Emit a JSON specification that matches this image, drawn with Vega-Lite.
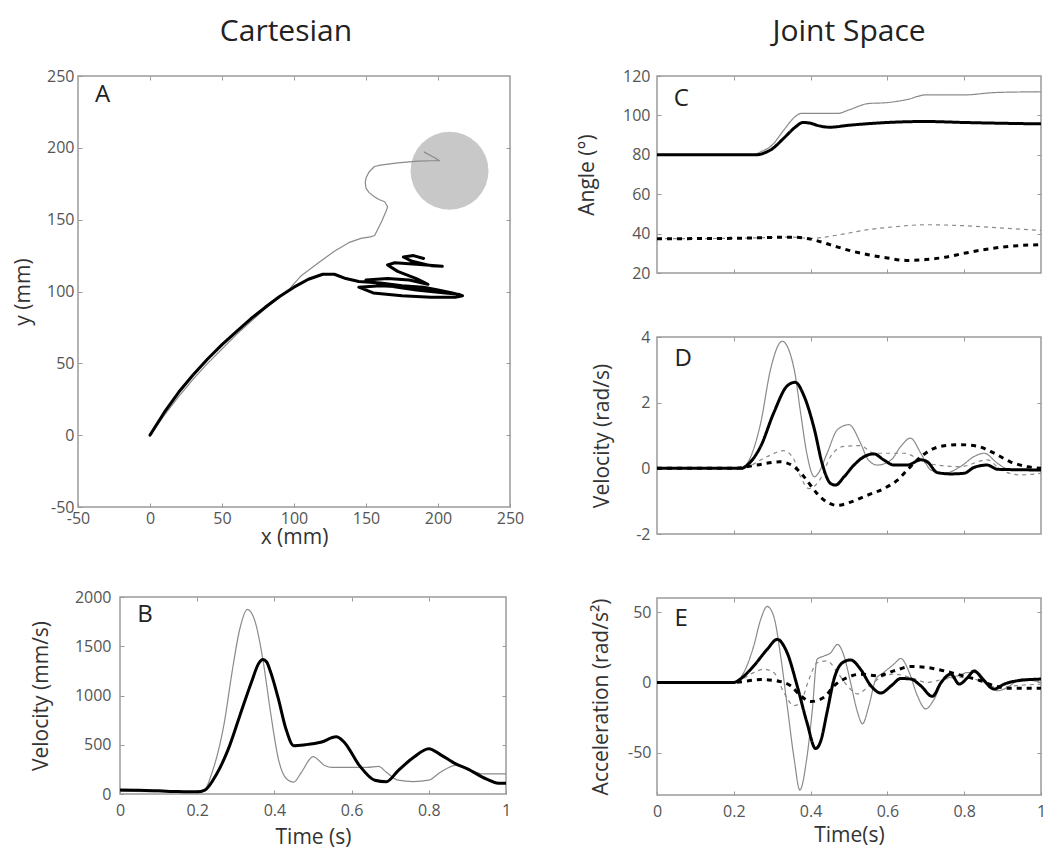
{
"$schema": "https://vega.github.io/schema/vega-lite/v6.json",
"padding": {"left": 11, "top": 16, "right": 5, "bottom": 5},
"background": "white",
"config": {
  "font": "Open Sans",
  "view": {"stroke": "#9a9a9a", "strokeWidth": 1.5},
  "legend": {"disable": true},
  "axis": {"grid": false, "domain": false, "tickColor": "#9a9a9a", "tickSize": -4, "tickWidth": 1, "tickCount": 12, "labelColor": "#555555", "labelFontSize": 16, "labelFlush": false, "labelOverlap": false, "labelExpr": "'' + datum.value", "titleFontSize": 21, "titleFontWeight": "normal", "titleColor": "#333333"},
  "title": {"font": "Open Sans", "fontWeight": "normal", "fontSize": 30, "color": "#222222", "anchor": "middle", "frame": "group"}
},
"datasets": {
  "circ": [{"x": 208, "y": 184}],
  "labA": [{"x": -33, "y": 237, "t": "A"}],
  "labB": [{"x": 0.065, "y": 1817, "t": "B"}],
  "labC": [{"x": 0.063, "y": 108.3, "t": "C"}],
  "labD": [{"x": 0.068, "y": 3.33, "t": "D"}],
  "labE": [{"x": 0.063, "y": 45, "t": "E"}],
  "pathA": [
    {"i":1,"x":0,"y":0,"s":"thin"},{"i":2,"x":10,"y":14,"s":"thin"},{"i":3,"x":20,"y":27,"s":"thin"},{"i":4,"x":30,"y":39,"s":"thin"},{"i":5,"x":40,"y":50,"s":"thin"},{"i":6,"x":50,"y":60,"s":"thin"},{"i":7,"x":60,"y":70,"s":"thin"},{"i":8,"x":70,"y":79,"s":"thin"},{"i":9,"x":80,"y":88,"s":"thin"},{"i":10,"x":90,"y":96,"s":"thin"},{"i":11,"x":97,"y":102,"s":"thin"},{"i":12,"x":105,"y":111,"s":"thin"},{"i":13,"x":117,"y":120,"s":"thin"},{"i":14,"x":128,"y":128,"s":"thin"},{"i":15,"x":138,"y":134,"s":"thin"},{"i":16,"x":146.5,"y":137,"s":"thin"},{"i":17,"x":153,"y":138,"s":"thin"},{"i":18,"x":156,"y":139,"s":"thin"},{"i":19,"x":158,"y":143,"s":"thin"},{"i":20,"x":161,"y":149,"s":"thin"},{"i":21,"x":164,"y":156,"s":"thin"},{"i":22,"x":165,"y":159,"s":"thin"},{"i":23,"x":163,"y":162.5,"s":"thin"},{"i":24,"x":159,"y":164,"s":"thin"},{"i":25,"x":155.8,"y":166,"s":"thin"},{"i":26,"x":152,"y":169,"s":"thin"},{"i":27,"x":150,"y":172,"s":"thin"},{"i":28,"x":149.5,"y":176,"s":"thin"},{"i":29,"x":150,"y":179,"s":"thin"},{"i":30,"x":152,"y":183,"s":"thin"},{"i":31,"x":155.8,"y":187,"s":"thin"},{"i":32,"x":160,"y":188,"s":"thin"},{"i":33,"x":172,"y":189.5,"s":"thin"},{"i":34,"x":186,"y":190.7,"s":"thin"},{"i":35,"x":195,"y":191,"s":"thin"},{"i":36,"x":201,"y":191,"s":"thin"},{"i":37,"x":198,"y":193,"s":"thin"},{"i":38,"x":196,"y":194,"s":"thin"},{"i":39,"x":190.5,"y":197,"s":"thin"},
    {"i":1,"x":0,"y":0,"s":"thick"},{"i":2,"x":10,"y":16,"s":"thick"},{"i":3,"x":20,"y":30,"s":"thick"},{"i":4,"x":30,"y":42,"s":"thick"},{"i":5,"x":40,"y":53,"s":"thick"},{"i":6,"x":50,"y":63,"s":"thick"},{"i":7,"x":60,"y":72,"s":"thick"},{"i":8,"x":70,"y":81,"s":"thick"},{"i":9,"x":80,"y":89,"s":"thick"},{"i":10,"x":90,"y":96.5,"s":"thick"},{"i":11,"x":100,"y":103,"s":"thick"},{"i":12,"x":110,"y":108.5,"s":"thick"},{"i":13,"x":120,"y":112,"s":"thick"},{"i":14,"x":128,"y":112,"s":"thick"},{"i":15,"x":136,"y":109,"s":"thick"},{"i":16,"x":145,"y":107,"s":"thick"},{"i":17,"x":160,"y":106,"s":"thick"},{"i":18,"x":175,"y":104,"s":"thick"},{"i":19,"x":190,"y":103,"s":"thick"},{"i":20,"x":200,"y":101,"s":"thick"},{"i":21,"x":210,"y":99,"s":"thick"},{"i":22,"x":217,"y":97,"s":"thick"},{"i":23,"x":212,"y":96,"s":"thick"},{"i":24,"x":195,"y":96,"s":"thick"},{"i":25,"x":175,"y":97,"s":"thick"},{"i":26,"x":155,"y":99,"s":"thick"},{"i":27,"x":145,"y":103,"s":"thick"},{"i":28,"x":160,"y":104,"s":"thick"},{"i":29,"x":180,"y":103,"s":"thick"},{"i":30,"x":200,"y":100,"s":"thick"},{"i":31,"x":215,"y":98,"s":"thick"},{"i":32,"x":205,"y":99,"s":"thick"},{"i":33,"x":185,"y":101,"s":"thick"},{"i":34,"x":165,"y":104,"s":"thick"},{"i":35,"x":150,"y":108,"s":"thick"},{"i":36,"x":165,"y":109,"s":"thick"},{"i":37,"x":180,"y":108,"s":"thick"},{"i":38,"x":193,"y":105,"s":"thick"},{"i":39,"x":185,"y":109,"s":"thick"},{"i":40,"x":172,"y":114,"s":"thick"},{"i":41,"x":165,"y":118.5,"s":"thick"},{"i":42,"x":170,"y":120,"s":"thick"},{"i":43,"x":185,"y":119,"s":"thick"},{"i":44,"x":203,"y":117.5,"s":"thick"},{"i":45,"x":195,"y":118,"s":"thick"},{"i":46,"x":182,"y":121,"s":"thick"},{"i":47,"x":176,"y":124,"s":"thick"},{"i":48,"x":183,"y":125,"s":"thick"},{"i":49,"x":190,"y":123,"s":"thick"}
  ],
  "velB": [
    {"t":0,"v":30,"s":"thin"},{"t":0.1,"v":25,"s":"thin"},{"t":0.2,"v":25,"s":"thin"},{"t":0.22,"v":45,"s":"thin"},{"t":0.237,"v":200,"s":"thin"},{"t":0.27,"v":720,"s":"thin"},{"t":0.29,"v":1230,"s":"thin"},{"t":0.31,"v":1670,"s":"thin"},{"t":0.33,"v":1875,"s":"thin"},{"t":0.35,"v":1750,"s":"thin"},{"t":0.37,"v":1370,"s":"thin"},{"t":0.39,"v":830,"s":"thin"},{"t":0.41,"v":360,"s":"thin"},{"t":0.43,"v":160,"s":"thin"},{"t":0.45,"v":120,"s":"thin"},{"t":0.47,"v":220,"s":"thin"},{"t":0.5,"v":380,"s":"thin"},{"t":0.53,"v":290,"s":"thin"},{"t":0.55,"v":270,"s":"thin"},{"t":0.6,"v":270,"s":"thin"},{"t":0.64,"v":270,"s":"thin"},{"t":0.67,"v":280,"s":"thin"},{"t":0.69,"v":220,"s":"thin"},{"t":0.72,"v":140,"s":"thin"},{"t":0.76,"v":125,"s":"thin"},{"t":0.8,"v":140,"s":"thin"},{"t":0.83,"v":220,"s":"thin"},{"t":0.87,"v":290,"s":"thin"},{"t":0.9,"v":255,"s":"thin"},{"t":0.94,"v":205,"s":"thin"},{"t":1,"v":205,"s":"thin"},
    {"t":0,"v":40,"s":"thick"},{"t":0.05,"v":38,"s":"thick"},{"t":0.1,"v":32,"s":"thick"},{"t":0.15,"v":25,"s":"thick"},{"t":0.2,"v":22,"s":"thick"},{"t":0.22,"v":40,"s":"thick"},{"t":0.25,"v":200,"s":"thick"},{"t":0.28,"v":450,"s":"thick"},{"t":0.31,"v":790,"s":"thick"},{"t":0.34,"v":1130,"s":"thick"},{"t":0.36,"v":1330,"s":"thick"},{"t":0.37,"v":1365,"s":"thick"},{"t":0.38,"v":1340,"s":"thick"},{"t":0.39,"v":1240,"s":"thick"},{"t":0.41,"v":970,"s":"thick"},{"t":0.43,"v":660,"s":"thick"},{"t":0.45,"v":490,"s":"thick"},{"t":0.48,"v":500,"s":"thick"},{"t":0.52,"v":525,"s":"thick"},{"t":0.56,"v":580,"s":"thick"},{"t":0.58,"v":530,"s":"thick"},{"t":0.62,"v":290,"s":"thick"},{"t":0.66,"v":140,"s":"thick"},{"t":0.69,"v":125,"s":"thick"},{"t":0.72,"v":235,"s":"thick"},{"t":0.76,"v":370,"s":"thick"},{"t":0.8,"v":460,"s":"thick"},{"t":0.83,"v":400,"s":"thick"},{"t":0.87,"v":305,"s":"thick"},{"t":0.9,"v":255,"s":"thick"},{"t":0.95,"v":150,"s":"thick"},{"t":0.98,"v":110,"s":"thick"},{"t":1,"v":110,"s":"thick"}
  ],
  "angC": [
    {"t":0,"v":80,"s":"thin"},{"t":0.25,"v":80,"s":"thin"},{"t":0.27,"v":81.5,"s":"thin"},{"t":0.3,"v":85,"s":"thin"},{"t":0.33,"v":92.5,"s":"thin"},{"t":0.36,"v":99.4,"s":"thin"},{"t":0.375,"v":101,"s":"thin"},{"t":0.47,"v":101,"s":"thin"},{"t":0.5,"v":102.8,"s":"thin"},{"t":0.55,"v":106,"s":"thin"},{"t":0.6,"v":106.5,"s":"thin"},{"t":0.65,"v":108,"s":"thin"},{"t":0.7,"v":110.4,"s":"thin"},{"t":0.8,"v":110.4,"s":"thin"},{"t":0.88,"v":111.6,"s":"thin"},{"t":1,"v":112,"s":"thin"},
    {"t":0,"v":37.4,"s":"thinDash"},{"t":0.2,"v":37.6,"s":"thinDash"},{"t":0.35,"v":38.2,"s":"thinDash"},{"t":0.4,"v":37.6,"s":"thinDash"},{"t":0.45,"v":38.6,"s":"thinDash"},{"t":0.5,"v":40.3,"s":"thinDash"},{"t":0.55,"v":42,"s":"thinDash"},{"t":0.6,"v":43.1,"s":"thinDash"},{"t":0.7,"v":44.5,"s":"thinDash"},{"t":0.8,"v":44,"s":"thinDash"},{"t":0.9,"v":42.8,"s":"thinDash"},{"t":1,"v":41.6,"s":"thinDash"},
    {"t":0,"v":80,"s":"thick"},{"t":0.26,"v":80,"s":"thick"},{"t":0.28,"v":81,"s":"thick"},{"t":0.3,"v":83,"s":"thick"},{"t":0.33,"v":88.4,"s":"thick"},{"t":0.36,"v":94,"s":"thick"},{"t":0.38,"v":96.4,"s":"thick"},{"t":0.4,"v":96,"s":"thick"},{"t":0.42,"v":94.8,"s":"thick"},{"t":0.45,"v":94,"s":"thick"},{"t":0.5,"v":95,"s":"thick"},{"t":0.6,"v":96.4,"s":"thick"},{"t":0.7,"v":96.9,"s":"thick"},{"t":0.8,"v":96.4,"s":"thick"},{"t":0.9,"v":96,"s":"thick"},{"t":1,"v":95.7,"s":"thick"},
    {"t":0,"v":37.4,"s":"thickDash"},{"t":0.2,"v":37.6,"s":"thickDash"},{"t":0.35,"v":38.2,"s":"thickDash"},{"t":0.4,"v":37.2,"s":"thickDash"},{"t":0.45,"v":34.4,"s":"thickDash"},{"t":0.5,"v":31.5,"s":"thickDash"},{"t":0.55,"v":29.3,"s":"thickDash"},{"t":0.6,"v":27.6,"s":"thickDash"},{"t":0.65,"v":26.4,"s":"thickDash"},{"t":0.7,"v":26.8,"s":"thickDash"},{"t":0.75,"v":28,"s":"thickDash"},{"t":0.8,"v":30,"s":"thickDash"},{"t":0.85,"v":31.8,"s":"thickDash"},{"t":0.9,"v":33.2,"s":"thickDash"},{"t":1,"v":34.4,"s":"thickDash"}
  ],
  "velD": [
    {"t":0,"v":0,"s":"thin"},{"t":0.22,"v":0,"s":"thin"},{"t":0.235,"v":0.15,"s":"thin"},{"t":0.27,"v":1.38,"s":"thin"},{"t":0.296,"v":3.03,"s":"thin"},{"t":0.326,"v":3.87,"s":"thin"},{"t":0.357,"v":3.03,"s":"thin"},{"t":0.374,"v":1.69,"s":"thin"},{"t":0.39,"v":0.46,"s":"thin"},{"t":0.41,"v":-0.26,"s":"thin"},{"t":0.42,"v":-0.15,"s":"thin"},{"t":0.443,"v":0.46,"s":"thin"},{"t":0.47,"v":1.18,"s":"thin"},{"t":0.5,"v":1.33,"s":"thin"},{"t":0.53,"v":0.77,"s":"thin"},{"t":0.55,"v":0.26,"s":"thin"},{"t":0.574,"v":0.1,"s":"thin"},{"t":0.61,"v":0.26,"s":"thin"},{"t":0.635,"v":0.67,"s":"thin"},{"t":0.66,"v":0.92,"s":"thin"},{"t":0.687,"v":0.46,"s":"thin"},{"t":0.713,"v":-0.05,"s":"thin"},{"t":0.748,"v":-0.15,"s":"thin"},{"t":0.79,"v":0.05,"s":"thin"},{"t":0.826,"v":0.36,"s":"thin"},{"t":0.852,"v":0.46,"s":"thin"},{"t":0.887,"v":0.15,"s":"thin"},{"t":0.92,"v":-0.05,"s":"thin"},{"t":1,"v":-0.05,"s":"thin"},
    {"t":0,"v":0,"s":"thinDash"},{"t":0.22,"v":0,"s":"thinDash"},{"t":0.287,"v":0.36,"s":"thinDash"},{"t":0.33,"v":0.54,"s":"thinDash"},{"t":0.357,"v":0.26,"s":"thinDash"},{"t":0.374,"v":-0.26,"s":"thinDash"},{"t":0.396,"v":-0.62,"s":"thinDash"},{"t":0.426,"v":-0.31,"s":"thinDash"},{"t":0.452,"v":0.36,"s":"thinDash"},{"t":0.487,"v":0.67,"s":"thinDash"},{"t":0.53,"v":0.69,"s":"thinDash"},{"t":0.565,"v":0.46,"s":"thinDash"},{"t":0.6,"v":0.46,"s":"thinDash"},{"t":0.643,"v":0.46,"s":"thinDash"},{"t":0.704,"v":0.15,"s":"thinDash"},{"t":0.79,"v":0.05,"s":"thinDash"},{"t":0.86,"v":0.26,"s":"thinDash"},{"t":0.896,"v":-0.05,"s":"thinDash"},{"t":0.948,"v":-0.2,"s":"thinDash"},{"t":1,"v":-0.15,"s":"thinDash"},
    {"t":0,"v":0,"s":"thick"},{"t":0.22,"v":0,"s":"thick"},{"t":0.235,"v":0.1,"s":"thick"},{"t":0.27,"v":0.67,"s":"thick"},{"t":0.304,"v":1.69,"s":"thick"},{"t":0.339,"v":2.51,"s":"thick"},{"t":0.36,"v":2.62,"s":"thick"},{"t":0.383,"v":2.2,"s":"thick"},{"t":0.41,"v":1.18,"s":"thick"},{"t":0.43,"v":0.15,"s":"thick"},{"t":0.452,"v":-0.46,"s":"thick"},{"t":0.465,"v":-0.51,"s":"thick"},{"t":0.487,"v":-0.26,"s":"thick"},{"t":0.513,"v":0.1,"s":"thick"},{"t":0.54,"v":0.36,"s":"thick"},{"t":0.565,"v":0.44,"s":"thick"},{"t":0.59,"v":0.26,"s":"thick"},{"t":0.617,"v":0.1,"s":"thick"},{"t":0.652,"v":0.1,"s":"thick"},{"t":0.687,"v":0.26,"s":"thick"},{"t":0.704,"v":0.2,"s":"thick"},{"t":0.73,"v":-0.13,"s":"thick"},{"t":0.765,"v":-0.17,"s":"thick"},{"t":0.8,"v":-0.15,"s":"thick"},{"t":0.826,"v":0.03,"s":"thick"},{"t":0.86,"v":0.1,"s":"thick"},{"t":0.887,"v":-0.03,"s":"thick"},{"t":1,"v":-0.05,"s":"thick"},
    {"t":0,"v":0,"s":"thickDash"},{"t":0.2,"v":0,"s":"thickDash"},{"t":0.26,"v":0.1,"s":"thickDash"},{"t":0.32,"v":0.2,"s":"thickDash"},{"t":0.357,"v":0.05,"s":"thickDash"},{"t":0.383,"v":-0.26,"s":"thickDash"},{"t":0.417,"v":-0.77,"s":"thickDash"},{"t":0.443,"v":-1.03,"s":"thickDash"},{"t":0.47,"v":-1.13,"s":"thickDash"},{"t":0.504,"v":-1.03,"s":"thickDash"},{"t":0.548,"v":-0.82,"s":"thickDash"},{"t":0.59,"v":-0.62,"s":"thickDash"},{"t":0.626,"v":-0.36,"s":"thickDash"},{"t":0.652,"v":-0.05,"s":"thickDash"},{"t":0.678,"v":0.26,"s":"thickDash"},{"t":0.713,"v":0.56,"s":"thickDash"},{"t":0.748,"v":0.69,"s":"thickDash"},{"t":0.79,"v":0.72,"s":"thickDash"},{"t":0.835,"v":0.67,"s":"thickDash"},{"t":0.878,"v":0.46,"s":"thickDash"},{"t":0.92,"v":0.2,"s":"thickDash"},{"t":0.965,"v":0.05,"s":"thickDash"},{"t":1,"v":0,"s":"thickDash"}
  ],
  "accE": [
    {"t":0,"v":0,"s":"thin"},{"t":0.2,"v":0,"s":"thin"},{"t":0.226,"v":7,"s":"thin"},{"t":0.252,"v":26,"s":"thin"},{"t":0.27,"v":44.7,"s":"thin"},{"t":0.287,"v":54,"s":"thin"},{"t":0.304,"v":47,"s":"thin"},{"t":0.322,"v":18.8,"s":"thin"},{"t":0.339,"v":-16.5,"s":"thin"},{"t":0.357,"v":-54,"s":"thin"},{"t":0.372,"v":-76.5,"s":"thin"},{"t":0.39,"v":-54,"s":"thin"},{"t":0.404,"v":-21,"s":"thin"},{"t":0.417,"v":16.5,"s":"thin"},{"t":0.435,"v":18.8,"s":"thin"},{"t":0.452,"v":21,"s":"thin"},{"t":0.47,"v":27,"s":"thin"},{"t":0.487,"v":18.8,"s":"thin"},{"t":0.504,"v":0,"s":"thin"},{"t":0.522,"v":-21,"s":"thin"},{"t":0.535,"v":-29.4,"s":"thin"},{"t":0.552,"v":-16.5,"s":"thin"},{"t":0.57,"v":2.4,"s":"thin"},{"t":0.59,"v":7,"s":"thin"},{"t":0.617,"v":13,"s":"thin"},{"t":0.635,"v":17,"s":"thin"},{"t":0.657,"v":7,"s":"thin"},{"t":0.678,"v":-9.4,"s":"thin"},{"t":0.7,"v":-18.8,"s":"thin"},{"t":0.722,"v":-11.8,"s":"thin"},{"t":0.748,"v":2.4,"s":"thin"},{"t":0.783,"v":4.7,"s":"thin"},{"t":0.809,"v":7,"s":"thin"},{"t":0.835,"v":7,"s":"thin"},{"t":0.861,"v":-1.2,"s":"thin"},{"t":0.887,"v":-5.9,"s":"thin"},{"t":0.913,"v":-3.5,"s":"thin"},{"t":0.948,"v":2.4,"s":"thin"},{"t":1,"v":0,"s":"thin"},
    {"t":0,"v":0,"s":"thinDash"},{"t":0.2,"v":0,"s":"thinDash"},{"t":0.252,"v":7,"s":"thinDash"},{"t":0.278,"v":9.4,"s":"thinDash"},{"t":0.304,"v":7,"s":"thinDash"},{"t":0.33,"v":-7,"s":"thinDash"},{"t":0.357,"v":-16.5,"s":"thinDash"},{"t":0.374,"v":-14,"s":"thinDash"},{"t":0.396,"v":2.4,"s":"thinDash"},{"t":0.417,"v":14,"s":"thinDash"},{"t":0.443,"v":15.3,"s":"thinDash"},{"t":0.47,"v":7,"s":"thinDash"},{"t":0.496,"v":-2.4,"s":"thinDash"},{"t":0.522,"v":-8.2,"s":"thinDash"},{"t":0.548,"v":-3.5,"s":"thinDash"},{"t":0.583,"v":3.5,"s":"thinDash"},{"t":0.617,"v":5.9,"s":"thinDash"},{"t":0.661,"v":3.5,"s":"thinDash"},{"t":0.704,"v":0,"s":"thinDash"},{"t":0.748,"v":2.4,"s":"thinDash"},{"t":0.79,"v":3.5,"s":"thinDash"},{"t":0.843,"v":1.2,"s":"thinDash"},{"t":0.887,"v":-3.5,"s":"thinDash"},{"t":0.93,"v":-2.4,"s":"thinDash"},{"t":1,"v":-1.2,"s":"thinDash"},
    {"t":0,"v":0,"s":"thick"},{"t":0.2,"v":0,"s":"thick"},{"t":0.217,"v":2.4,"s":"thick"},{"t":0.252,"v":11.8,"s":"thick"},{"t":0.287,"v":23.5,"s":"thick"},{"t":0.313,"v":30.6,"s":"thick"},{"t":0.339,"v":21,"s":"thick"},{"t":0.365,"v":-2.4,"s":"thick"},{"t":0.39,"v":-28,"s":"thick"},{"t":0.413,"v":-47,"s":"thick"},{"t":0.426,"v":-42,"s":"thick"},{"t":0.443,"v":-21,"s":"thick"},{"t":0.461,"v":2.4,"s":"thick"},{"t":0.483,"v":14,"s":"thick"},{"t":0.504,"v":16,"s":"thick"},{"t":0.53,"v":9.4,"s":"thick"},{"t":0.557,"v":-2.4,"s":"thick"},{"t":0.583,"v":-7.5,"s":"thick"},{"t":0.61,"v":-2.4,"s":"thick"},{"t":0.635,"v":2.8,"s":"thick"},{"t":0.661,"v":2.4,"s":"thick"},{"t":0.687,"v":-2.4,"s":"thick"},{"t":0.717,"v":-9.9,"s":"thick"},{"t":0.74,"v":0,"s":"thick"},{"t":0.765,"v":5.9,"s":"thick"},{"t":0.787,"v":-1.2,"s":"thick"},{"t":0.809,"v":3.5,"s":"thick"},{"t":0.826,"v":8.2,"s":"thick"},{"t":0.848,"v":2.4,"s":"thick"},{"t":0.878,"v":-4.7,"s":"thick"},{"t":0.904,"v":-1.2,"s":"thick"},{"t":0.939,"v":1.2,"s":"thick"},{"t":1,"v":2.4,"s":"thick"},
    {"t":0,"v":0,"s":"thickDash"},{"t":0.2,"v":0,"s":"thickDash"},{"t":0.27,"v":2,"s":"thickDash"},{"t":0.313,"v":1,"s":"thickDash"},{"t":0.348,"v":-2.4,"s":"thickDash"},{"t":0.374,"v":-9.4,"s":"thickDash"},{"t":0.4,"v":-13.6,"s":"thickDash"},{"t":0.435,"v":-10.6,"s":"thickDash"},{"t":0.461,"v":-2.4,"s":"thickDash"},{"t":0.496,"v":3.5,"s":"thickDash"},{"t":0.53,"v":5.9,"s":"thickDash"},{"t":0.574,"v":4.7,"s":"thickDash"},{"t":0.617,"v":8.2,"s":"thickDash"},{"t":0.661,"v":11.3,"s":"thickDash"},{"t":0.704,"v":10.6,"s":"thickDash"},{"t":0.748,"v":8.2,"s":"thickDash"},{"t":0.79,"v":5.2,"s":"thickDash"},{"t":0.843,"v":1.2,"s":"thickDash"},{"t":0.878,"v":-2.4,"s":"thickDash"},{"t":0.922,"v":-4.2,"s":"thickDash"},{"t":1,"v":-4.2,"s":"thickDash"}
  ]
},
"hconcat": [
  {
    "vconcat": [
      {
        "width": 432, "height": 431,
        "title": {"text": "Cartesian", "offset": -3, "baseline": "alphabetic", "dx": -8},
        "resolve": {"axis": {"x": "independent", "y": "independent"}},
        "layer": [
          {"data": {"name": "circ"}, "mark": {"type": "point", "filled": true, "size": 6084, "color": "#c8c8c8", "opacity": 1, "strokeWidth": 0},
           "encoding": {
             "x": {"field": "x", "type": "quantitative", "scale": {"domain": [-50, 250], "nice": false, "zero": false}, "axis": {"title": "x (mm)", "values": [-50, 0, 50, 100, 150, 200, 250], "labelPadding": 7, "titleY": 30, "titleBaseline": "middle"}},
             "y": {"field": "y", "type": "quantitative", "scale": {"domain": [-50, 250], "nice": false, "zero": false}, "axis": {"title": "y (mm)", "values": [-50, 0, 50, 100, 150, 200, 250], "labelPadding": 8, "titleX": -55, "titleBaseline": "middle"}}
           }},
          {"data": {"name": "pathA"}, "mark": {"type": "line", "strokeJoin": "round", "strokeCap": "round"},
           "encoding": {
             "x": {"field": "x", "type": "quantitative", "axis": null},
             "y": {"field": "y", "type": "quantitative", "axis": null},
             "order": {"field": "i", "type": "quantitative"},
             "color": {"field": "s", "type": "nominal", "scale": {"domain": ["thin", "thinDash", "thick", "thickDash"], "range": ["#8a8a8a", "#8a8a8a", "#000000", "#000000"]}},
             "strokeWidth": {"condition": {"test": "datum.s == 'thick' || datum.s == 'thickDash'", "value": 3}, "value": 1.2}
           }},
          {"data": {"name": "labA"}, "mark": {"type": "text", "fontSize": 24, "align": "center", "baseline": "middle", "color": "#222222"},
           "encoding": {
             "x": {"field": "x", "type": "quantitative", "axis": {"orient": "top", "title": null, "labels": false, "values": [0, 50, 100, 150, 200]}},
             "y": {"field": "y", "type": "quantitative", "axis": {"orient": "right", "title": null, "labels": false, "values": [0, 50, 100, 150, 200]}},
             "text": {"field": "t"}}}
        ]
      },
      {
        "hconcat": [
          {"width": 42, "height": 10, "view": {"stroke": null}, "data": {"values": [{"a": 1}]}, "mark": {"type": "point", "opacity": 0}, "encoding": {}},
          {
            "width": 386, "height": 197,
            "resolve": {"axis": {"x": "independent", "y": "independent"}},
            "layer": [
              {"data": {"name": "velB"}, "mark": {"type": "line", "interpolate": "monotone"},
               "encoding": {
                 "x": {"field": "t", "type": "quantitative", "scale": {"domain": [0, 1], "nice": false}, "axis": {"title": "Time (s)", "values": [0, 0.2, 0.4, 0.6, 0.8, 1], "labelPadding": 12, "titleY": 43, "titleBaseline": "middle"}},
                 "y": {"field": "v", "type": "quantitative", "scale": {"domain": [0, 2000], "nice": false}, "axis": {"title": "Velocity (mm/s)", "values": [0, 500, 1000, 1500, 2000], "labelPadding": 13, "titleX": -79, "titleBaseline": "middle"}},
                 "color": {"field": "s", "type": "nominal", "scale": {"domain": ["thin", "thinDash", "thick", "thickDash"], "range": ["#8a8a8a", "#8a8a8a", "#000000", "#000000"]}},
                 "strokeWidth": {"condition": {"test": "datum.s == 'thick' || datum.s == 'thickDash'", "value": 3}, "value": 1.2}
               }},
              {"data": {"name": "labB"}, "mark": {"type": "text", "fontSize": 24, "align": "center", "baseline": "middle", "color": "#222222"},
               "encoding": {
                 "x": {"field": "x", "type": "quantitative", "axis": {"orient": "top", "title": null, "labels": false, "values": [0.2, 0.4, 0.6, 0.8]}},
                 "y": {"field": "y", "type": "quantitative", "axis": {"orient": "right", "title": null, "labels": false, "values": [500, 1000, 1500]}},
                 "text": {"field": "t"}}}
            ]
          }
        ],
        "bounds": "flush", "spacing": 0
      }
    ],
    "bounds": "flush", "spacing": 90
  },
  {
    "vconcat": [
      {
        "width": 384, "height": 197,
        "title": {"text": "Joint Space", "offset": -3, "baseline": "alphabetic"},
        "resolve": {"axis": {"x": "independent", "y": "independent"}},
        "layer": [
          {"data": {"name": "angC"}, "mark": {"type": "line", "interpolate": "monotone"},
           "encoding": {
             "x": {"field": "t", "type": "quantitative", "scale": {"domain": [0, 1], "nice": false}, "axis": {"title": null, "labels": false, "values": [0.2, 0.4, 0.6, 0.8]}},
             "y": {"field": "v", "type": "quantitative", "scale": {"domain": [20, 120], "nice": false, "zero": false}, "axis": {"title": "Angle (°)", "values": [20, 40, 60, 80, 100, 120], "labelPadding": 11, "titleX": -70, "titleBaseline": "middle"}},
             "color": {"field": "s", "type": "nominal", "scale": {"domain": ["thin", "thinDash", "thick", "thickDash"], "range": ["#8a8a8a", "#8a8a8a", "#000000", "#000000"]}},
             "strokeWidth": {"condition": {"test": "datum.s == 'thick' || datum.s == 'thickDash'", "value": 3}, "value": 1.2},
             "strokeDash": {"field": "s", "type": "nominal", "scale": {"domain": ["thin", "thinDash", "thick", "thickDash"], "range": [[1, 0], [4, 4], [1, 0], [5, 5]]}}
           }},
          {"data": {"name": "labC"}, "mark": {"type": "text", "fontSize": 24, "align": "center", "baseline": "middle", "color": "#222222"},
           "encoding": {
             "x": {"field": "x", "type": "quantitative", "axis": {"orient": "top", "title": null, "labels": false, "values": [0.2, 0.4, 0.6, 0.8]}},
             "y": {"field": "y", "type": "quantitative", "axis": {"orient": "right", "title": null, "labels": false, "values": [40, 60, 80, 100]}},
             "text": {"field": "t"}}}
        ]
      },
      {
        "width": 384, "height": 197,
        "resolve": {"axis": {"x": "independent", "y": "independent"}},
        "layer": [
          {"data": {"name": "velD"}, "mark": {"type": "line", "interpolate": "monotone"},
           "encoding": {
             "x": {"field": "t", "type": "quantitative", "scale": {"domain": [0, 1], "nice": false}, "axis": {"title": null, "labels": false, "values": [0.2, 0.4, 0.6, 0.8]}},
             "y": {"field": "v", "type": "quantitative", "scale": {"domain": [-2, 4], "nice": false, "zero": false}, "axis": {"title": "Velocity (rad/s)", "values": [-2, 0, 2, 4], "labelPadding": 11, "titleX": -55, "titleBaseline": "middle"}},
             "color": {"field": "s", "type": "nominal", "scale": {"domain": ["thin", "thinDash", "thick", "thickDash"], "range": ["#8a8a8a", "#8a8a8a", "#000000", "#000000"]}},
             "strokeWidth": {"condition": {"test": "datum.s == 'thick' || datum.s == 'thickDash'", "value": 3}, "value": 1.2},
             "strokeDash": {"field": "s", "type": "nominal", "scale": {"domain": ["thin", "thinDash", "thick", "thickDash"], "range": [[1, 0], [4, 4], [1, 0], [5, 5]]}}
           }},
          {"data": {"name": "labD"}, "mark": {"type": "text", "fontSize": 24, "align": "center", "baseline": "middle", "color": "#222222"},
           "encoding": {
             "x": {"field": "x", "type": "quantitative", "axis": {"orient": "top", "title": null, "labels": false, "values": [0.2, 0.4, 0.6, 0.8]}},
             "y": {"field": "y", "type": "quantitative", "axis": {"orient": "right", "title": null, "labels": false, "values": [0, 2]}},
             "text": {"field": "t"}}}
        ]
      },
      {
        "width": 384, "height": 197,
        "resolve": {"axis": {"x": "independent", "y": "independent"}},
        "layer": [
          {"data": {"name": "accE"}, "mark": {"type": "line", "interpolate": "monotone"},
           "encoding": {
             "x": {"field": "t", "type": "quantitative", "scale": {"domain": [0, 1], "nice": false}, "axis": {"title": "Time(s)", "values": [0, 0.2, 0.4, 0.6, 0.8, 1], "labelPadding": 12, "titleY": 40, "titleBaseline": "middle"}},
             "y": {"field": "v", "type": "quantitative", "scale": {"domain": [-80, 60], "nice": false, "zero": false}, "axis": {"title": "Acceleration (rad/s²)", "values": [-50, 0, 50], "labelPadding": 10, "titleX": -56, "titleBaseline": "middle"}},
             "color": {"field": "s", "type": "nominal", "scale": {"domain": ["thin", "thinDash", "thick", "thickDash"], "range": ["#8a8a8a", "#8a8a8a", "#000000", "#000000"]}},
             "strokeWidth": {"condition": {"test": "datum.s == 'thick' || datum.s == 'thickDash'", "value": 3}, "value": 1.2},
             "strokeDash": {"field": "s", "type": "nominal", "scale": {"domain": ["thin", "thinDash", "thick", "thickDash"], "range": [[1, 0], [4, 4], [1, 0], [5, 5]]}}
           }},
          {"data": {"name": "labE"}, "mark": {"type": "text", "fontSize": 24, "align": "center", "baseline": "middle", "color": "#222222"},
           "encoding": {
             "x": {"field": "x", "type": "quantitative", "axis": {"orient": "top", "title": null, "labels": false, "values": [0.2, 0.4, 0.6, 0.8]}},
             "y": {"field": "y", "type": "quantitative", "axis": {"orient": "right", "title": null, "labels": false, "values": [-50, 0, 50]}},
             "text": {"field": "t"}}}
        ]
      }
    ],
    "bounds": "flush", "spacing": 64
  }
],
"bounds": "flush", "spacing": 579
}
